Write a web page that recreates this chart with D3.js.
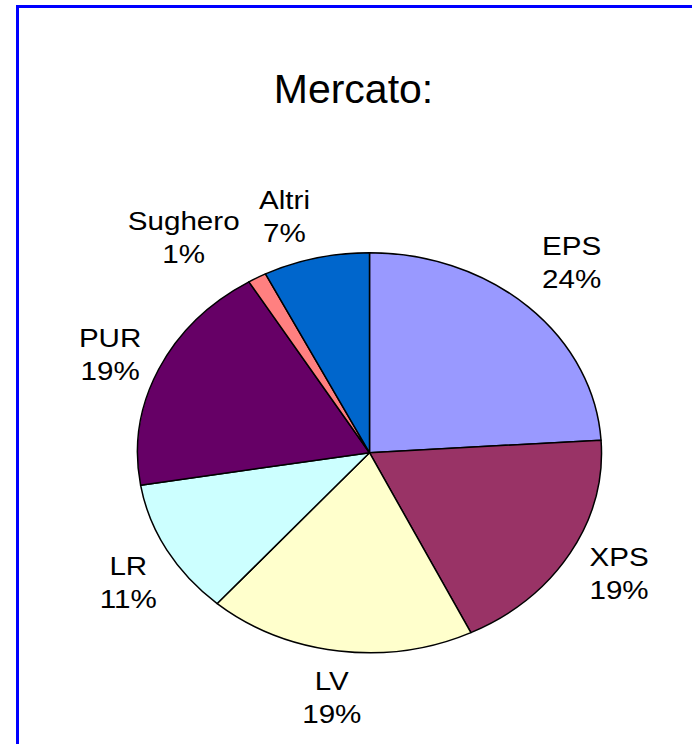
<!DOCTYPE html>
<html>
<head>
<meta charset="utf-8">
<script src="https://cdn.jsdelivr.net/npm/d3@7"></script>
<style>
  body { margin: 0; background: #fff; }
  text { font-family: "Liberation Sans", Arial, sans-serif; fill: #000; }
</style>
</head>
<body>
<div id="chart"></div>
<script>
// Mercato: quota per materiale isolante
var categories = ['EPS', 'XPS', 'LV', 'LR', 'PUR', 'Sughero', 'Altri'];
var values = [24.0, 18.8, 18.6, 11.0, 18.9, 1.3, 7.4];
var colors = ['#9999FF', '#993366', '#FFFFCC', '#CCFFFF', '#660066', '#FF8080', '#0066CC'];
var title = 'Mercato:';

var width = 692, height = 744;
var cx = 369.5, cy = 452.7;
var ry = 200, rx = 232;          // la torta è schiacciata in un'ellisse
var sx = rx / ry;

// piccoli spostamenti delle etichette, come li mette Excel
var labelNudge = {
  EPS: [6, -10], XPS: [2, -4], LV: [0, 0], LR: [9, 9],
  PUR: [1, 5], Sughero: [-47, 1], Altri: [-19, 4]
};

var svg = d3.select('#chart').append('svg')
  .attr('width', width)
  .attr('height', height);

// cornice blu
svg.append('path')
  .attr('d', 'M17.5,' + height + 'V6.5H' + width)
  .attr('fill', 'none')
  .attr('stroke', '#0000FF')
  .attr('stroke-width', 3);

svg.append('text')
  .attr('x', 353.5)
  .attr('y', 103)
  .attr('text-anchor', 'middle')
  .style('font-size', '41px')
  .text(title);

var data = categories.map(function(c, i) {
  return { name: c, value: values[i], color: colors[i] };
});
var total = d3.sum(values);

var pie = d3.pie().sort(null).value(function(d) { return d.value; });
var arcs = pie(data);

var arc = d3.arc().innerRadius(0).outerRadius(ry);

var g = svg.append('g')
  .attr('transform', 'translate(' + cx + ',' + cy + ') scale(' + sx + ',1)');

g.selectAll('path')
  .data(arcs)
  .enter().append('path')
  .attr('d', arc)
  .attr('fill', function(d) { return d.data.color; })
  .attr('stroke', '#000')
  .attr('stroke-width', 1.5)
  .attr('vector-effect', 'non-scaling-stroke')
  .attr('stroke-linejoin', 'round');

// etichette
var labelR = 1.235 * ry;
var lineGap = 33;
var labels = svg.selectAll('g.label')
  .data(arcs)
  .enter().append('g')
  .attr('class', 'label')
  .attr('transform', function(d) {
    var a = (d.startAngle + d.endAngle) / 2;
    var n = labelNudge[d.data.name];
    var x = cx + Math.sin(a) * labelR * sx + n[0];
    var y = cy - Math.cos(a) * labelR + n[1];
    return 'translate(' + x + ',' + y + ') scale(1.16,1)';
  });

labels.append('text')
  .attr('text-anchor', 'middle')
  .attr('y', -7.4)
  .style('font-size', '25.5px')
  .text(function(d) { return d.data.name; });

labels.append('text')
  .attr('text-anchor', 'middle')
  .attr('y', -7.4 + lineGap)
  .style('font-size', '25.5px')
  .text(function(d) { return Math.round(d.data.value / total * 100) + '%'; });
</script>
</body>
</html>
